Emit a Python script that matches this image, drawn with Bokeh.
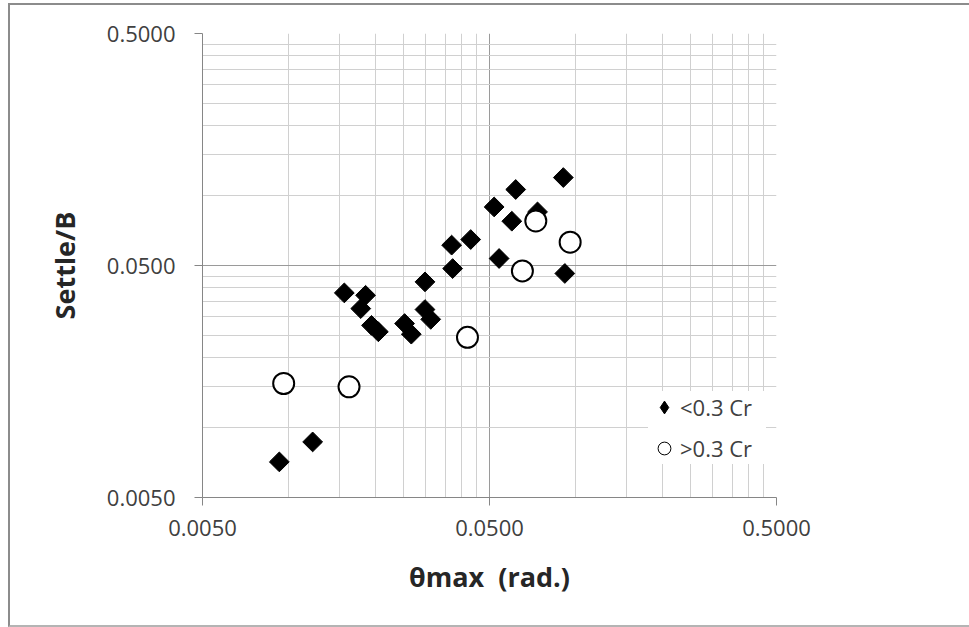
import math
from bokeh.plotting import figure
from bokeh.models import (FixedTicker, NumeralTickFormatter, Legend, LegendItem,
                          ColumnDataSource, InlineStyleSheet)
from bokeh.embed import file_html
from bokeh.resources import INLINE

# ---- data ----
low_cr_theta = [0.0904, 0.0617, 0.0519, 0.0735, 0.0598, 0.0430, 0.0369, 0.0372,
                0.0540, 0.0915, 0.0298, 0.0156, 0.0185, 0.0178, 0.0194, 0.0205,
                0.0253, 0.0267, 0.0298, 0.0312, 0.0121, 0.00926]
low_cr_settle = [0.1197, 0.1063, 0.0894, 0.0851, 0.0776, 0.0647, 0.0612, 0.0485,
                 0.0536, 0.0462, 0.0425, 0.0381, 0.0372, 0.0326, 0.0276, 0.0259,
                 0.0281, 0.0253, 0.0323, 0.0293, 0.00868, 0.00712]

high_cr_theta = [0.0725, 0.0955, 0.0651, 0.0419, 0.00959, 0.0162]
high_cr_settle = [0.0778, 0.0630, 0.0474, 0.0245, 0.0155, 0.0150]

major_ticks = [0.005, 0.05, 0.5]
minor_ticks = [0.010, 0.015, 0.020, 0.025, 0.030, 0.035, 0.040, 0.045,
               0.10, 0.15, 0.20, 0.25, 0.30, 0.35, 0.40, 0.45]

series_labels = ["<0.3 Cr", ">0.3 Cr"]
x_title = "\u03b8max\u00a0\u00a0(rad.)"
y_title = "Settle/B"

FONT = "Open Sans"
TICK_COLOR = "#404040"

p = figure(width=969, height=627, x_axis_type="log", y_axis_type="log",
           x_range=(0.005, 0.5), y_range=(0.005, 0.5),
           output_backend="svg", toolbar_location=None, title=None,
           min_border_left=202, min_border_right=193,
           min_border_top=33, min_border_bottom=130,
           background_fill_color="white", border_fill_color="white")
p.outline_line_color = None

# outer chart border (left, top and bottom edges; the right one lies outside the window)
p.stylesheets = [InlineStyleSheet(css="""
:host { position: relative; overflow: hidden; }
:host::after {
  content: "";
  position: absolute;
  left: 8px; top: 3px; width: 990px; height: 624px;
  box-sizing: border-box;
  border-left: 2px solid #8c8c8c;
  border-top: 2px solid #8c8c8c;
  border-bottom: 2px solid #b4b4b4;
  border-right: none;
  pointer-events: none;
  z-index: 10;
}
""")]

ticker = FixedTicker(ticks=major_ticks, minor_ticks=minor_ticks)

for ax in (p.xaxis[0], p.yaxis[0]):
    ax.ticker = ticker
    ax.formatter = NumeralTickFormatter(format="0.0000")
    ax.major_label_text_font = FONT
    ax.major_label_text_font_size = "22px"
    ax.major_label_text_color = TICK_COLOR
    ax.axis_line_color = "#868686"
    ax.axis_line_width = 1
    ax.major_tick_line_color = "#868686"
    ax.major_tick_out = 8
    ax.major_tick_in = 0
    ax.minor_tick_out = 0
    ax.minor_tick_in = 0
    ax.axis_label_text_font = FONT
    ax.axis_label_text_font_style = "bold"
    ax.axis_label_text_font_size = "27px"
    ax.axis_label_text_color = "#262626"

p.xaxis.axis_label = x_title
p.yaxis.axis_label = y_title
p.xaxis.major_label_standoff = 14
p.yaxis.major_label_standoff = 19
p.xaxis.axis_label_standoff = 19
p.yaxis.axis_label_standoff = 21

for g in (p.xgrid[0], p.ygrid[0]):
    g.ticker = ticker
    g.grid_line_color = "#9a9a9a"
    g.grid_line_width = 1
    g.minor_grid_line_color = "#d0d0d0"
    g.minor_grid_line_width = 1

src_low = ColumnDataSource(dict(x=low_cr_theta, y=low_cr_settle))
src_high = ColumnDataSource(dict(x=high_cr_theta, y=high_cr_settle))

# legend swatches: drawn first (underneath), fully covered by the real markers
k1 = p.scatter("x", "y", source=src_low, marker="diamond", size=12,
               fill_color="black", line_color="black", line_width=1)
k2 = p.scatter("x", "y", source=src_high, marker="circle", size=16,
               fill_color="white", line_color="black", line_width=1)

r1 = p.scatter("x", "y", source=src_low, marker="square", angle=math.pi / 4,
               size=14, fill_color="black", line_color="black", line_width=1)
r2 = p.scatter("x", "y", source=src_high, marker="circle", size=21,
               fill_color="white", line_color="black", line_width=2)

legend = Legend(items=[LegendItem(label=series_labels[0], renderers=[k1]),
                       LegendItem(label=series_labels[1], renderers=[k2])],
                location=(446, 33), orientation="vertical",
                background_fill_color="white", background_fill_alpha=1,
                border_line_color=None, padding=10, spacing=9, margin=0,
                glyph_width=32, glyph_height=32, label_standoff=0,
                label_width=86, label_text_font=FONT,
                label_text_font_size="22px", label_text_color=TICK_COLOR)
p.add_layout(legend)

open("out.html", "w").write(file_html(p, INLINE))
